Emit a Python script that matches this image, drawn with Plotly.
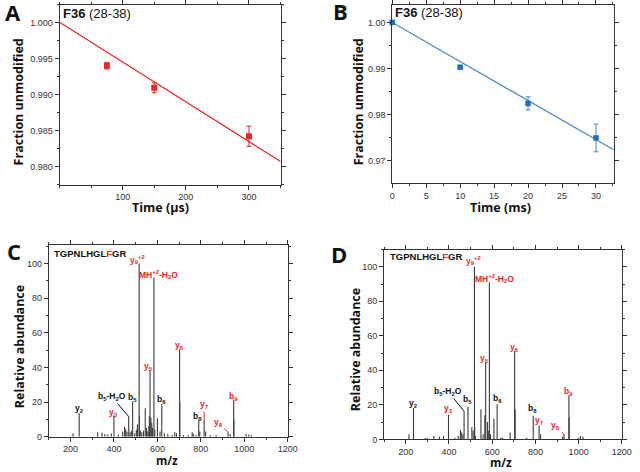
import plotly.graph_objects as go

# ---------------- data ----------------
# Panel A: F36 (28-38), time in microseconds
a_time = [75, 150, 300]
a_frac = [0.99404, 0.99096, 0.98422]
a_err = [0.00046, 0.00070, 0.00140]
a_fit_intercept = 1.0001
a_fit_slope = -0.0000554

# Panel B: F36 (28-38), time in milliseconds
b_time = [0, 10, 20, 30]
b_frac = [1.0000, 0.99029, 0.98243, 0.97493]
b_err = [0.0, 0.0003, 0.00143, 0.0030]
b_fit_intercept = 1.0000
b_fit_slope = -0.000848

# Panel C spectrum (m/z, relative abundance)
c_mz = [212, 240, 325, 345, 358, 372, 388, 400, 420, 440, 449, 454, 460, 468, 474, 480,
        486, 495, 503, 508, 516, 517, 521, 528, 536, 544, 550, 556, 561, 563, 566, 570,
        574, 578, 584, 588, 600, 612, 620, 632, 648, 668, 680, 688, 702, 703, 720, 742,
        760, 766, 778, 790, 795, 815, 822, 843, 870, 925, 935, 951, 952, 1008, 1020, 1032]
c_int = [1.8, 13.5, 2.5, 2.3, 1.5, 1.2, 1.8, 12.2, 1.2, 3.0, 5.7, 4.5, 3.0, 11.6, 2.5, 3.5,
         20.4, 2.0, 4.0, 7.0, 100, 12, 3.5, 2.5, 3.5, 16.5, 5.0, 3.0, 6.0, 12.0, 38.5, 11.0,
         8.0, 5.0, 92, 4.0, 10.7, 3.0, 18.9, 2.0, 1.5, 1.0, 2.5, 2.0, 50.3, 20.0, 1.0, 1.0,
         2.5, 1.5, 1.0, 9.3, 3.0, 9.7, 3.0, 1.0, 1.0, 2.6, 1.5, 21.0, 10.0, 1.5, 1.2, 1.0]

# Panel D spectrum (m/z, relative abundance)
d_mz = [215, 236, 290, 300, 330, 356, 375, 398, 428, 443, 453, 459, 465, 470, 488, 506,
        512, 518, 519, 523, 548, 558, 566, 570, 578, 584, 587, 592, 608, 623, 640, 648,
        683, 704, 706, 760, 790, 817, 824, 926, 932, 955, 956, 998, 1008, 1020]
d_int = [3.0, 18.1, 0.8, 1.0, 2.0, 1.5, 2.0, 14.3, 1.0, 2.0, 5.5, 4.0, 3.0, 16.2, 13.7, 7.0,
         5.0, 100, 7.0, 2.0, 17.5, 3.0, 14.0, 45, 10.0, 5.0, 91, 3.0, 12.0, 20.4, 1.0, 1.0,
         4.0, 51.3, 17.5, 1.0, 13.7, 8.0, 3.0, 1.5, 2.9, 25.6, 12.8, 1.0, 2.0, 1.5]

peptide = "TGPNLHGL<span style='color:#e8262a'>F</span>GR"

# fragment labels: text, colour key, label x (m/z), label y
c_labels = [
    ("y<sub>2</sub>", "k", 240, 16.5), ("y<sub>3</sub>", "r", 397, 14.2),
    ("b<sub>5</sub>", "k", 486, 22.9), ("y<sub>9</sub><sup>+2</sup>", "r", 509, 102.5),
    ("MH<sup>+2</sup>-H<sub>2</sub>O", "r", 603, 93.5), ("y<sub>5</sub>", "r", 560, 40.5),
    ("b<sub>6</sub>", "k", 618, 21.5), ("y<sub>6</sub>", "r", 702, 52.5),
    ("b<sub>8</sub>", "k", 784, 11.5), ("b<sub>9</sub>", "r", 951, 23.5),
]
d_labels = [
    ("y<sub>2</sub>", "k", 238, 20.6), ("y<sub>3</sub>", "r", 400, 17.6),
    ("y<sub>9</sub><sup>+2</sup>", "r", 514, 103.4), ("MH<sup>+2</sup>-H<sub>2</sub>O", "r", 609, 93.0),
    ("y<sub>5</sub>", "r", 565, 47.0), ("b<sub>6</sub>", "k", 626, 23.4),
    ("y<sub>6</sub>", "r", 704, 53.2), ("b<sub>8</sub>", "k", 788, 17.8),
    ("y<sub>7</sub>", "r", 818, 11.0), ("b<sub>9</sub>", "r", 955, 27.8),
]
# arrowed labels: text, colour key, target m/z, target y, text offset px (dx, dy)
c_arrows = [
    ("b<sub>5</sub>-H<sub>2</sub>O", "k", 468, 11.6, -17, -20),
    ("y<sub>7</sub>", "r", 815, 9.7, 0, -15),
    ("y<sub>8</sub>", "r", 925, 2.6, -10, -10),
]
d_arrows = [
    ("b<sub>5</sub>-H<sub>2</sub>O", "k", 470, 16.2, -16, -20),
    ("b<sub>5</sub>", "k", 488, 13.7, 0, -16),
    ("y<sub>8</sub>", "r", 932, 2.9, -8, -9),
]

RED = "#e8262a"
BLUE = "#1f6fc0"
BLUE_LINE = "#4a86c5"
colmap = {"r": RED, "k": "#111111"}

fig = go.Figure()

# ---- Panel A ----
fig.add_trace(go.Scatter(
    x=[0, 350], y=[a_fit_intercept, a_fit_intercept + a_fit_slope * 350],
    mode="lines", line=dict(color=RED, width=1.2), xaxis="x", yaxis="y", showlegend=False))
fig.add_trace(go.Scatter(
    x=a_time, y=a_frac, mode="markers",
    marker=dict(symbol="square", size=6, color=RED),
    error_y=dict(type="data", array=a_err, color=RED, thickness=1, width=2.5),
    xaxis="x", yaxis="y", showlegend=False))

# ---- Panel B ----
b_xmax = 32.6
fig.add_trace(go.Scatter(
    x=[0, b_xmax], y=[b_fit_intercept, b_fit_intercept + b_fit_slope * b_xmax],
    mode="lines", line=dict(color=BLUE_LINE, width=1.2), xaxis="x2", yaxis="y2", showlegend=False))
fig.add_trace(go.Scatter(
    x=b_time, y=b_frac, mode="markers",
    marker=dict(symbol="square", size=5.5, color=BLUE),
    error_y=dict(type="data", array=b_err, color=BLUE_LINE, thickness=1, width=2.5),
    xaxis="x2", yaxis="y2", showlegend=False, cliponaxis=False))


def sticks(mz, inten):
    xs, ys = [], []
    for m, h in zip(mz, inten):
        xs += [m, m, None]
        ys += [0, h, None]
    return xs, ys


cx, cy = sticks(c_mz, c_int)
fig.add_trace(go.Scatter(x=cx, y=cy, mode="lines", line=dict(color="#3a3a3a", width=1.1),
                         xaxis="x3", yaxis="y3", showlegend=False))
dx, dy = sticks(d_mz, d_int)
fig.add_trace(go.Scatter(x=dx, y=dy, mode="lines", line=dict(color="#3a3a3a", width=1.1),
                         xaxis="x4", yaxis="y4", showlegend=False))

W, H = 640, 472


def dom_x(a, b):
    return [a / W, b / W]


def dom_y(top, bottom):
    return [1 - bottom / H, 1 - top / H]


tickfont = dict(family="Liberation Sans, Arial", size=9, color="#333")
axcommon = dict(showline=True, linecolor="#333", linewidth=1, mirror="ticks",
                ticks="outside", ticklen=4, tickcolor="#333", tickfont=tickfont,
                showgrid=False, zeroline=False)

layout = dict(
    width=W, height=H, margin=dict(l=0, r=0, t=0, b=0), autosize=False,
    plot_bgcolor="white", paper_bgcolor="white", showlegend=False,
    xaxis=dict(domain=dom_x(57.7, 283.3), range=[0, 350], tickvals=[100, 200, 300],
               minor=dict(dtick=50, ticks="outside", ticklen=2, tickcolor="#333"),
               anchor="y", **axcommon),
    yaxis=dict(domain=dom_y(4, 186), range=[0.97748, 1.0025], tick0=0.98, dtick=0.005,
               tickformat=".3f",
               minor=dict(dtick=0.0025, ticks="outside", ticklen=2, tickcolor="#333"),
               anchor="x", **axcommon),
    xaxis2=dict(domain=dom_x(397.3, 623.3), range=[0, b_xmax], tick0=0, dtick=5,
                minor=dict(dtick=2.5, ticks="outside", ticklen=2, tickcolor="#333"),
                anchor="y2", **axcommon),
    yaxis2=dict(domain=dom_y(4, 184.3), range=[0.96516, 1.0038], tick0=0.97, dtick=0.01,
                tickformat=".2f",
                minor=dict(dtick=0.005, ticks="outside", ticklen=2, tickcolor="#333"),
                anchor="x2", **axcommon),
    xaxis3=dict(domain=dom_x(46.7, 290.7), range=[100, 1200], tick0=0, dtick=200,
                minor=dict(dtick=100, ticks="outside", ticklen=2, tickcolor="#333"),
                anchor="y3", **axcommon),
    yaxis3=dict(domain=dom_y(246.7, 441.3), range=[0, 111], tick0=0, dtick=20,
                minor=dict(dtick=10, ticks="outside", ticklen=2, tickcolor="#333"),
                anchor="x3", **axcommon),
    xaxis4=dict(domain=dom_x(389, 631.7), range=[100, 1200], tick0=0, dtick=200,
                minor=dict(dtick=100, ticks="outside", ticklen=2, tickcolor="#333"),
                anchor="y4", **axcommon),
    yaxis4=dict(domain=dom_y(251.7, 444), range=[0, 110], tick0=0, dtick=20,
                minor=dict(dtick=10, ticks="outside", ticklen=2, tickcolor="#333"),
                anchor="x4", **axcommon),
)
fig.update_layout(**layout)

ann = []


def paper(text, x, y, size=12, rot=0, bold=True, xanchor="center", color="#111", family="Open Sans"):
    t = f"<b>{text}</b>" if bold else text
    ann.append(dict(text=t, x=x / W, y=1 - y / H, xref="paper", yref="paper",
                    xanchor=xanchor, yanchor="middle", showarrow=False, textangle=rot,
                    font=dict(family=family, size=size, color=color)))


# panel letters
paper("A", 10, 11, size=22)
paper("B", 344, 10, size=22)
paper("C", 11, 253, size=22)
paper("D", 343, 256, size=22)

# axis titles
paper("Time (µs)", 161, 209, size=12.5)
paper("Time (ms)", 508, 209, size=12.5)
paper("Fraction unmodified", 16, 102, size=12.5, rot=-90)
paper("Fraction unmodified", 363, 102, size=12.5, rot=-90)
paper("Relative abundance", 17, 350, size=12.5, rot=-90)
paper("Relative abundance", 360, 353, size=12.5, rot=-90)
paper("m/z", 167, 465, size=11.5)
paper("m/z", 508, 467, size=11.5)

# panel titles
for tx, ty in [(59, 13), (398, 12)]:
    ann.append(dict(text="<b>F36</b> (28-38)", x=tx / W, y=1 - ty / H, xref="paper", yref="paper",
                    xanchor="left", yanchor="middle", showarrow=False,
                    font=dict(family="Liberation Sans, Arial", size=13, color="#111")))
for tx, ty in [(50, 256), (393, 259)]:
    ann.append(dict(text=f"<b>{peptide}</b>", x=tx / W, y=1 - ty / H, xref="paper", yref="paper",
                    xanchor="left", yanchor="middle", showarrow=False,
                    font=dict(family="Liberation Sans, Arial", size=9.5, color="#111")))

lab_font = "Liberation Sans, Arial"
for labels, xr, yr in [(c_labels, "x3", "y3"), (d_labels, "x4", "y4")]:
    for text, ck, lx, ly in labels:
        ann.append(dict(text=f"<b>{text}</b>", x=lx, y=ly, xref=xr, yref=yr,
                        xanchor="center", yanchor="middle", showarrow=False,
                        font=dict(family=lab_font, size=8.5, color=colmap[ck])))
for arrows, xr, yr in [(c_arrows, "x3", "y3"), (d_arrows, "x4", "y4")]:
    for text, ck, mx, my, ox, oy in arrows:
        ann.append(dict(text=f"<b>{text}</b>", x=mx, y=my, xref=xr, yref=yr,
                        ax=ox, ay=oy, showarrow=True, arrowhead=0, arrowwidth=1,
                        arrowcolor=colmap[ck], standoff=0,
                        font=dict(family=lab_font, size=8.5, color=colmap[ck])))

fig.update_layout(annotations=ann)
fig.write_html("out.html", config={"displayModeBar": False},
               post_script="document.body.style.margin='0';")
